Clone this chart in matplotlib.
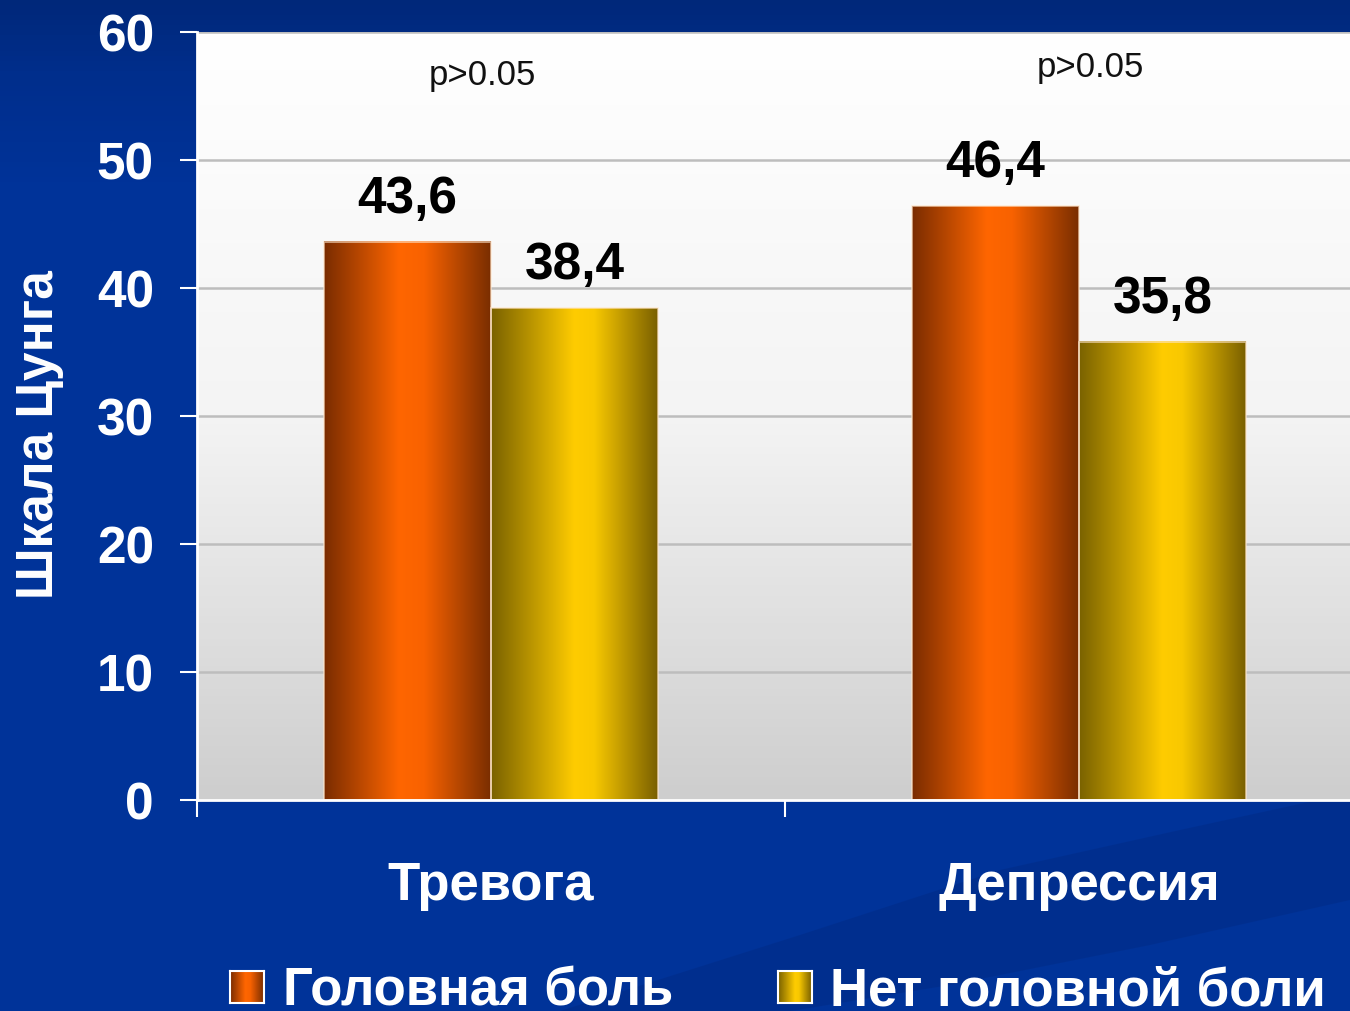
import numpy as np
import matplotlib.pyplot as plt
from matplotlib.colors import LinearSegmentedColormap
from matplotlib.patches import Rectangle, Polygon

# ====== DATA ======
categories = ["Тревога", "Депрессия"]
series_names = ["Головная боль", "Нет головной боли"]
headache = [43.6, 46.4]
no_headache = [38.4, 35.8]
p_labels = ["p>0.05", "p>0.05"]
p_y = [56.6, 57.2]
y_label = "Шкала Цунга"

FONT = ["Liberation Sans", "DejaVu Sans"]
plt.rcParams["font.family"] = FONT

W, H = 1350, 1011
DPI = 100

orange_cmap = LinearSegmentedColormap.from_list(
    "orange", [(0, "#7a2c00"), (0.45, "#ff6600"), (0.6, "#f86200"), (1, "#7a2e00")])
yellow_cmap = LinearSegmentedColormap.from_list(
    "yellow", [(0, "#7a6200"), (0.5, "#ffcc00"), (0.62, "#f8c800"), (1, "#7a6000")])


def px(x, y):
    return x / W, 1 - y / H


def gradient_bar(ax, x0, width, height, cmap):
    grad = np.linspace(0, 1, 256).reshape(1, -1)
    ax.imshow(grad, cmap=cmap, aspect="auto", extent=[x0, x0 + width, 0, height],
              zorder=3, interpolation="bicubic")
    ax.add_patch(Rectangle((x0, 0), width, height, fill=False,
                           edgecolor=(1, 0.9, 0.8, 0.7), lw=1.2, zorder=4))


fig = plt.figure(figsize=(W / DPI, H / DPI), dpi=DPI)

# background: dark blue with a darker band at the top and a soft swoosh
bg = fig.add_axes([0, 0, 1, 1], zorder=-10)
bg.set_xlim(0, W)
bg.set_ylim(H, 0)
bg.axis("off")
vgrad = np.linspace(0, 1, 200).reshape(-1, 1)
bg_cmap = LinearSegmentedColormap.from_list(
    "bg", [(0, "#00287a"), (0.07, "#002e8c"), (0.18, "#003399"), (1, "#003399")])
bg.imshow(vgrad, cmap=bg_cmap, aspect="auto", extent=[0, W, H, 0], origin="upper")
top_x = np.array([560, 800, 1000, 1180, 1318, 1350])
top_y = np.array([1011, 935, 870, 830, 800, 796])
bot_x = np.array([1350, 1150, 950, 791])
bot_y = np.array([900, 945, 985, 1011])
bg.add_patch(Polygon(np.column_stack([np.r_[top_x, bot_x], np.r_[top_y, bot_y]]),
                     closed=True, facecolor="#002c88", alpha=0.6, lw=0))

# plot area
x0, y0 = px(197, 800)
x1, y1 = px(1373, 32)
ax = fig.add_axes([x0, y0, x1 - x0, y1 - y0])

ax.imshow(np.linspace(0, 1, 200).reshape(-1, 1),
          cmap=LinearSegmentedColormap.from_list("pa", ["#cecece", "#f4f4f4", "#ffffff"]),
          aspect="auto", extent=[-0.5, 1.5, 0, 60], origin="lower", zorder=0)

ax.set_yticks(range(0, 61, 10))
for yv in range(10, 61, 10):
    ax.axhline(yv, color="#bdbdbd", lw=1.8, zorder=1)

bw = 0.284
xs = np.arange(len(categories))
for i in xs:
    gradient_bar(ax, i - bw, bw, headache[i], orange_cmap)
    gradient_bar(ax, i, bw, no_headache[i], yellow_cmap)
    for xc, v in [(i - bw / 2, headache[i]), (i + bw / 2, no_headache[i])]:
        ax.annotate(f"{v:.1f}".replace(".", ","), (xc, v), xytext=(0, 21),
                    textcoords="offset points", ha="center", va="baseline",
                    fontsize=37, fontweight="bold", color="black", zorder=5)
    ax.text(i - 0.014 + 0.034 * i, p_y[i], p_labels[i], ha="center", va="center",
            fontsize=25, color="#111111", zorder=5)

ax.set_xlim(-0.5, 1.5)
ax.set_ylim(0, 60)

for s in ["top", "right"]:
    ax.spines[s].set_visible(False)
for s in ["left", "bottom"]:
    ax.spines[s].set_color("white")
    ax.spines[s].set_linewidth(2)
    ax.spines[s].set_zorder(6)

ax.tick_params(axis="y", direction="out", length=12, width=1.5, color="white",
               labelcolor="white", labelsize=37, pad=19)
for lab in ax.get_yticklabels():
    lab.set_fontweight("bold")

ax.set_xticks([-0.5, 0.5, 1.5])
ax.set_xticklabels([])
ax.set_xticks(xs, minor=True)
ax.set_xticklabels(categories, minor=True, color="white", fontsize=38, fontweight="bold")
ax.tick_params(axis="x", which="major", direction="out", length=12, width=1.5, color="white")
ax.tick_params(axis="x", which="minor", length=0, pad=44)

fig.text(*px(40, 435), y_label, rotation=90, ha="center", va="center",
         color="white", fontsize=37, fontweight="bold")

# legend
for (mx, tx), name, cmap in zip([(230, 283), (778, 830)], series_names, [orange_cmap, yellow_cmap]):
    lx0, ly0 = px(mx, 1003)
    lx1, ly1 = px(mx + 34, 971)
    lax = fig.add_axes([lx0, ly0, lx1 - lx0, ly1 - ly0])
    lax.imshow(np.linspace(0, 1, 64).reshape(1, -1), cmap=cmap, aspect="auto")
    lax.set_xticks([])
    lax.set_yticks([])
    for s in lax.spines.values():
        s.set_color("white")
        s.set_linewidth(1.5)
    fig.text(*px(tx, 1006), name, ha="left", va="baseline", color="white",
             fontsize=38, fontweight="bold")

fig.savefig("out.png", dpi=DPI)
